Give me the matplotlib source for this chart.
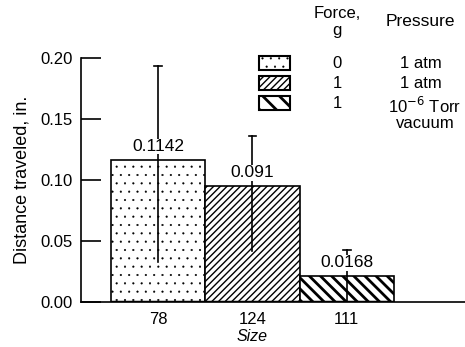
import matplotlib
matplotlib.use("Agg")
import matplotlib.pyplot as plt
from matplotlib.patches import Rectangle

categories = ["78", "124", "111"]
heights = [0.1164, 0.0948, 0.0210]
value_labels = ["0.1142", "0.091", "0.0168"]
err_low = [0.033, 0.042, 0.0]
err_high = [0.193, 0.136, 0.043]
hatches = ["..", "/////", "\\\\\\"]
legend_hatches = ["..", "/////", "\\\\"]
legend_force = ["0", "1", "1"]
legend_pressure = ["1 atm", "1 atm", "10$^{-6}$ Torr\nvacuum"]
yticks = [0.00, 0.05, 0.10, 0.15, 0.20]

plt.rcParams['font.family'] = ['Liberation Sans', 'DejaVu Sans']
plt.rcParams['hatch.linewidth'] = 1.0

fig = plt.figure(figsize=(4.65, 3.47), dpi=100)
ax = fig.add_axes([0.1735, 0.1297, 0.8265, 0.7033])

hatch_lw = [0.3, 1.0, 2.0]
x = list(range(len(categories)))
for i in x:
    bars = ax.bar(i, heights[i], width=1.0, facecolor='white', edgecolor='black',
                  linewidth=1.2, hatch=hatches[i], zorder=2)
    for p in bars:
        try:
            p.set_hatch_linewidth(hatch_lw[i])
        except AttributeError:
            pass
    ax.plot([i, i], [err_low[i], err_high[i]], color='black', lw=1.2, zorder=3)
    ax.plot([i - 0.04, i + 0.04], [err_high[i], err_high[i]], color='black', lw=1.2, zorder=3)
    ax.text(i, heights[i] + 0.005, value_labels[i], ha='center', va='bottom',
            fontsize=12.5, zorder=4,
            bbox=dict(facecolor='white', edgecolor='none', pad=0.3))

# thick baseline under bars
ax.plot([-0.5, 2.5], [0, 0], color='black', lw=2.5, zorder=5, solid_capstyle='butt')

ax.set_xlim(-0.821, 3.254)
ax.set_ylim(0, 0.2)
ax.set_yticks(yticks)
ax.set_yticklabels([f"{v:.2f}" for v in yticks], fontsize=12)
ax.set_xticks(x)
ax.set_xticklabels(categories, fontsize=12)
ax.tick_params(axis='y', direction='in', length=14.5, width=1.2, pad=6)
ax.tick_params(axis='x', length=0, pad=7)
for s in ['top', 'right']:
    ax.spines[s].set_visible(False)
ax.spines['left'].set_linewidth(1.2)
ax.spines['bottom'].set_linewidth(1.2)
ax.set_ylabel("Distance traveled, in.", fontsize=13)
ax.yaxis.set_label_coords(-0.13, 0.5)
ax.set_xlabel("Size", fontsize=11.5, style='italic')
ax.xaxis.set_label_coords(0.446, -0.112)

# legend drawn in figure pixel coordinates
W, H = 465, 347
def fx(px):
    return px / W
def fy(py):
    return 1 - py / H

fig.text(fx(337), fy(22), "Force,\ng", ha='center', va='center', fontsize=12, linespacing=1.2)
fig.text(fx(420), fy(22), "Pressure", ha='center', va='center', fontsize=12.5)
rows_y = [63, 83, 103]
for j in range(3):
    r = Rectangle((fx(259), fy(rows_y[j] + 7)), fx(290) - fx(259), fy(rows_y[j] - 7) - fy(rows_y[j] + 7),
                  transform=fig.transFigure, facecolor='white', edgecolor='black',
                  linewidth=1.5, hatch=legend_hatches[j])
    try:
        r.set_hatch_linewidth(hatch_lw[j])
    except AttributeError:
        pass
    fig.patches.append(r)
    fig.text(fx(337), fy(rows_y[j]), legend_force[j], ha='center', va='center', fontsize=12)
    if j < 2:
        fig.text(fx(421), fy(rows_y[j]), legend_pressure[j], ha='center', va='center', fontsize=12)
    else:
        fig.text(fx(425), fy(rows_y[j]) + 0.02, legend_pressure[j], ha='center', va='top', fontsize=12,
                 linespacing=0.95)

fig.savefig("out.png", dpi=100)
